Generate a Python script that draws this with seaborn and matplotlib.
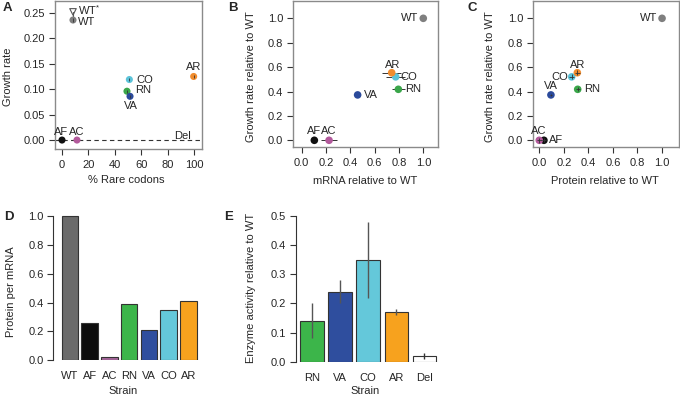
import numpy as np
import pandas as pd
import matplotlib
matplotlib.use("Agg")
import matplotlib.pyplot as plt
import seaborn as sns

sns.set_style("ticks")
plt.rcParams['font.family'] = ['Liberation Sans', 'DejaVu Sans']
plt.rcParams['font.size'] = 8
plt.rcParams['mathtext.fontset'] = 'custom'
plt.rcParams['mathtext.rm'] = 'Liberation Sans'

# ---------------- data ----------------
strains = ['WT', 'AF', 'AC', 'RN', 'VA', 'CO', 'AR']
rare_codons = [8.3, 0.0, 11.3, 49.1, 51.4, 50.9, 99.5]
growth_rate = [0.236, 0.0, 0.0, 0.096, 0.086, 0.119, 0.125]
growth_err = [0.004, 0.0, 0.0, 0.003, 0.003, 0.003, 0.003]
wt_star_codons = 8.3
wt_star_growth = 0.252

mrna_rel = [1.0, 0.104, 0.225, 0.795, 0.46, 0.773, 0.74]
mrna_err = [0.0, 0.0, 0.067, 0.055, 0.0, 0.08, 0.08]
growth_rel = [1.0, 0.0, 0.0, 0.418, 0.372, 0.52, 0.554]
protein_rel = [1.0, 0.038, 0.0, 0.313, 0.095, 0.264, 0.31]
protein_err = [0.0, 0.015, 0.02, 0.015, 0.01, 0.02, 0.02]

protein_per_mrna = [1.0, 0.26, 0.02, 0.388, 0.208, 0.346, 0.413]

strains_e = ['RN', 'VA', 'CO', 'AR', 'Del']
enzyme_activity = [0.14, 0.24, 0.35, 0.17, 0.02]
enzyme_low = [0.08, 0.20, 0.22, 0.16, 0.01]
enzyme_high = [0.20, 0.28, 0.48, 0.18, 0.03]

point_colors = {'WT': '#7f7f7f', 'AF': '#111111', 'AC': '#b35a9c', 'RN': '#3aa64a',
                'VA': '#2b4a9b', 'CO': '#5cc3d9', 'AR': '#f08c2e'}
bar_colors = {'WT': '#6b6b6b', 'AF': '#0d0d0d', 'AC': '#a7669b', 'RN': '#3cb54a',
              'VA': '#2f4e9e', 'CO': '#64c8da', 'AR': '#f7a21e', 'Del': '#ffffff'}

df = pd.DataFrame({'strain': strains, 'codons': rare_codons, 'growth': growth_rate,
                   'gerr': growth_err, 'mrna': mrna_rel, 'merr': mrna_err,
                   'grel': growth_rel, 'prot': protein_rel, 'perr': protein_err})

W, H = 680, 396
fig = plt.figure(figsize=(W / 100, H / 100), dpi=100)


def add_ax(l, t, r, b):
    return fig.add_axes([l / W, 1 - b / H, (r - l) / W, (b - t) / H])


def px_to_ax(ax, px, py):
    l, b, w, h = ax.get_position().bounds
    return ((px / W - l) / w, ((1 - py / H) - b) / h)


def style_box(ax):
    for s in ax.spines.values():
        s.set_visible(True)
        s.set_color('#8a8a8a')
        s.set_linewidth(1.0)
    ax.tick_params(direction='out', length=4, width=0.8, color='#333333',
                   labelsize=8, pad=3)
    ax.tick_params(axis='x', pad=4)


def labels(ax, xl, xpos, yl, ypos):
    ax.set_xlabel(xl, fontsize=8, va='center')
    ax.set_ylabel(yl, fontsize=8, va='center')
    ax.xaxis.set_label_coords(*px_to_ax(ax, *xpos))
    ax.yaxis.set_label_coords(*px_to_ax(ax, *ypos))


def ann(ax, t, x, y, dx, dy, ha='center', va='center'):
    ax.annotate(t, (x, y), xytext=(dx, dy), textcoords='offset pixels',
                ha=ha, va=va, fontsize=8)


# ---------------- Panel A ----------------
axA = add_ax(55, 1, 202, 149)
axA.axhline(0, ls=(0, (4, 3)), color='#333333', lw=0.8, zorder=1)
axA.errorbar([wt_star_codons, df.codons[0]], [wt_star_growth, df.growth[0]],
             color='#555555', lw=0.8, zorder=2)
axA.scatter([wt_star_codons], [wt_star_growth], marker='v', s=22,
            facecolor='none', edgecolor='#555555', lw=0.8, zorder=3)
sns.scatterplot(data=df, x='codons', y='growth', hue='strain', palette=point_colors,
                s=26, edgecolor='none', legend=False, ax=axA, zorder=3)
axA.errorbar(df.codons, df.growth, yerr=df.gerr, fmt='none', ecolor='#333333',
             elinewidth=0.6, zorder=4)
axA.set_xlim(-5.3, 105.8)
axA.set_ylim(-0.0176, 0.2734)
axA.set_xticks([0, 20, 40, 60, 80, 100])
axA.set_yticks([0, 0.05, 0.10, 0.15, 0.20, 0.25])
axA.set_yticklabels(['0.00', '0.05', '0.10', '0.15', '0.20', '0.25'])
style_box(axA)
labels(axA, '% Rare codons', (126, 180), 'Growth rate', (8.5, 77))
ann(axA, 'WT', df.codons[0], df.growth[0], 5, -2, ha='left')
ann(axA, 'WT$^{*}$', wt_star_codons, wt_star_growth, 5, 2, ha='left')
ann(axA, 'CO', df.codons[5], df.growth[5], 7, 0, ha='left')
ann(axA, 'RN', df.codons[3], df.growth[3], 8, 1, ha='left')
ann(axA, 'VA', df.codons[4], df.growth[4], 1, -10)
ann(axA, 'AR', df.codons[6], df.growth[6], 0, 9)
ann(axA, 'AF', df.codons[1], df.growth[1], -1, 8)
ann(axA, 'AC', df.codons[2], df.growth[2], 0, 8)
ann(axA, 'Del', 91.2, 0.0, 0, 4.5)

# ---------------- Panel B ----------------
axB = add_ax(293, 1, 438, 147)
sns.scatterplot(data=df, x='mrna', y='grel', hue='strain', palette=point_colors,
                s=30, edgecolor='none', legend=False, ax=axB, zorder=3)
axB.errorbar(df.mrna, df.grel, xerr=df.merr, fmt='none', ecolor='#333333',
             elinewidth=0.7, zorder=2)
axB.set_xlim(-0.0715, 1.121)
axB.set_ylim(-0.055, 1.142)
ticks = [0, 0.2, 0.4, 0.6, 0.8, 1.0]
axB.set_xticks(ticks)
axB.set_yticks(ticks)
axB.set_xticklabels([f'{t:.1f}' for t in ticks])
axB.set_yticklabels([f'{t:.1f}' for t in ticks])
style_box(axB)
labels(axB, 'mRNA relative to WT', (365, 181.5), 'Growth rate relative to WT', (251.5, 77))
ann(axB, 'WT', df.mrna[0], df.grel[0], -5, 0, ha='right')
ann(axB, 'AR', df.mrna[6], df.grel[6], 1, 8)
ann(axB, 'CO', df.mrna[5], df.grel[5], 5, 0, ha='left')
ann(axB, 'RN', df.mrna[3], df.grel[3], 7, 0, ha='left')
ann(axB, 'VA', df.mrna[4], df.grel[4], 6, 0, ha='left')
ann(axB, 'AF', df.mrna[1], df.grel[1], 0, 9)
ann(axB, 'AC', df.mrna[2], df.grel[2], 0, 9)

# ---------------- Panel C ----------------
axC = add_ax(533, 1, 679, 147)
sns.scatterplot(data=df, x='prot', y='grel', hue='strain', palette=point_colors,
                s=30, edgecolor='none', legend=False, ax=axC, zorder=3)
axC.errorbar(df.prot, df.grel, xerr=df.perr, yerr=df.perr, fmt='none',
             ecolor='#333333', elinewidth=0.6, zorder=4)
axC.set_xlim(-0.051, 1.138)
axC.set_ylim(-0.055, 1.142)
axC.set_xticks(ticks)
axC.set_yticks(ticks)
axC.set_xticklabels([f'{t:.1f}' for t in ticks])
axC.set_yticklabels([f'{t:.1f}' for t in ticks])
style_box(axC)
labels(axC, 'Protein relative to WT', (605, 181), 'Growth rate relative to WT', (490, 77))
ann(axC, 'WT', df.prot[0], df.grel[0], -5, 0, ha='right')
ann(axC, 'AR', df.prot[6], df.grel[6], 0, 8)
ann(axC, 'CO', df.prot[5], df.grel[5], -4, 0, ha='right')
ann(axC, 'VA', df.prot[4], df.grel[4], 0, 9)
ann(axC, 'RN', df.prot[3], df.grel[3], 6, 0, ha='left')
ann(axC, 'AC', df.prot[2], df.grel[2], -1, 9)
ann(axC, 'AF', df.prot[1], df.grel[1], 5, 0, ha='left')


def style_bar(ax, top):
    sns.despine(ax=ax, bottom=True)
    ax.spines['left'].set_bounds(0, top)
    ax.spines['left'].set_color('#333333')
    ax.spines['left'].set_linewidth(0.8)
    ax.tick_params(axis='y', direction='out', length=4, width=0.8, color='#333333',
                   labelsize=8, pad=3)
    ax.tick_params(axis='x', length=0, labelsize=8, pad=8)


# ---------------- Panel D ----------------
axD = add_ax(53.3, 210, 205, 360.3)
sns.barplot(x=strains, y=protein_per_mrna, hue=strains, palette=bar_colors,
            legend=False, width=0.84, edgecolor='#333333', linewidth=0.8,
            saturation=1, errorbar=None, ax=axD)
axD.set_xlim(-0.845, 6.84)
axD.set_ylim(0, 1.042)
axD.set_yticks(ticks)
axD.set_yticklabels([f'{t:.1f}' for t in ticks])
style_bar(axD, 1.0)
labels(axD, 'Strain', (123, 391.5), 'Protein per mRNA', (11.5, 292))

# ---------------- Panel E ----------------
axE = add_ax(295.7, 210, 440, 361.7)
sns.barplot(x=strains_e, y=enzyme_activity, hue=strains_e, palette=bar_colors,
            legend=False, width=0.83, edgecolor='#333333', linewidth=0.8,
            saturation=1, errorbar=None, ax=axE)
axE.vlines(range(len(strains_e)), enzyme_low, enzyme_high,
           colors=['#555555'] * 4 + ['#333333'], lw=1.0, zorder=5)
axE.set_xlim(-0.58, 4.56)
axE.set_ylim(0, 0.521)
eticks = [0, 0.1, 0.2, 0.3, 0.4, 0.5]
axE.set_yticks(eticks)
axE.set_yticklabels([f'{t:.1f}' for t in eticks])
style_bar(axE, 0.5)
labels(axE, 'Strain', (365, 391), 'Enzyme activity relative to WT', (251.5, 288))

# panel letters
for t, x, y in [('A', 7, 8), ('B', 233, 8), ('C', 472, 8), ('D', 9, 217), ('E', 229, 217)]:
    fig.text(x / W, 1 - y / H, t, fontsize=9.5, fontweight='bold', ha='center', va='center')

fig.savefig('out.png', dpi=100)
